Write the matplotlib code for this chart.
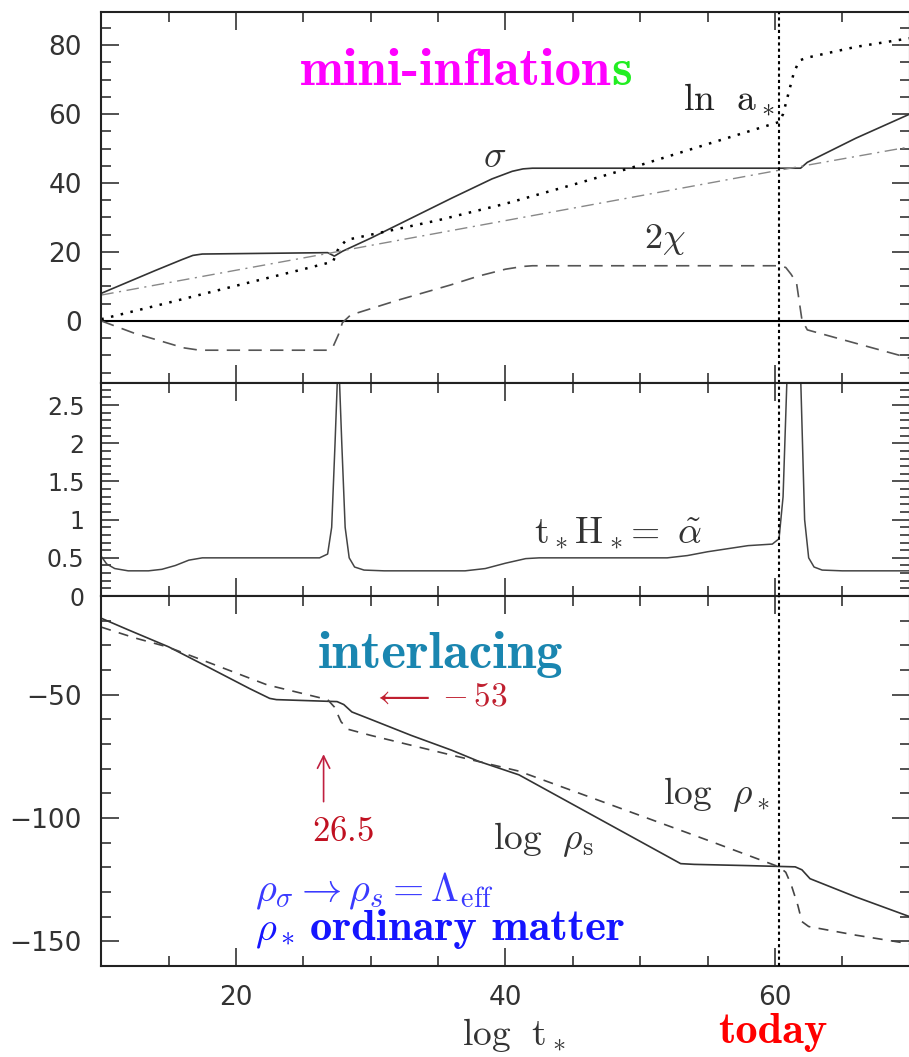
import matplotlib
matplotlib.use("Agg")
import matplotlib.pyplot as plt
from matplotlib.ticker import MultipleLocator, FuncFormatter

plt.rcParams['mathtext.fontset'] = 'cm'
plt.rcParams['font.family'] = 'DejaVu Sans'

# ---- top panel: sigma, ln a*, dash-dot reference, 2 chi
sigma_x = [10, 12, 14, 16, 16.8, 17.5, 26.8, 27.3, 27.9, 30, 33, 36, 39, 40.5, 41.3, 42, 61.9, 62.4, 66, 70]
sigma_y = [8, 11.3, 14.6, 17.8, 19.0, 19.4, 19.8, 18.8, 20.2, 24, 29.8, 35.6, 41.2, 43.4, 44.1, 44.3, 44.3, 46, 53, 60]

lna_x = [10, 15, 20, 25, 27.2, 27.6, 28.2, 30, 35, 40, 45, 50, 55, 60.3, 60.6, 61.0, 61.4, 61.8, 62.3, 66, 70]
lna_y = [0.5, 5.3, 10.2, 15.0, 17.2, 21, 23.5, 25, 29.2, 34, 39.5, 45.2, 51.3, 57.7, 60, 66, 72, 75.5, 76.3, 79.5, 82]

dd_x = [10, 20, 27, 30, 40, 50, 60, 70]
dd_y = [7.5, 14.7, 19.7, 21.9, 29.1, 36.3, 43.5, 50.5]

chi_x = [10, 12.4, 14.9, 16.1, 17.3, 26.8, 27.2, 27.6, 27.9, 28.5, 32, 35.9, 38, 40, 41.3, 42, 60.3, 60.8, 61.2, 61.6, 62.0, 62.4, 66, 70]
chi_y = [0, -3.5, -6.4, -7.8, -8.5, -8.5, -7.5, -4, -0.5, 1.7, 6, 10.4, 13, 15, 15.8, 16, 16, 15.5, 13.5, 11, 0.3, -2.6, -6.5, -10.8]

# ---- middle panel: t* H* = alpha~
alpha_x = [10, 10.4, 11, 12, 13.5, 14.5, 15.5, 16.5, 17.5, 18.5, 26.2, 26.8, 27.1, 27.35, 27.6,
           27.85, 28.1, 28.4, 28.8, 29.5, 31, 37, 38.5, 40, 41.5, 42.5, 52, 53.5, 55, 56.5, 58,
           59.8, 60.3, 60.6, 60.9, 61.2, 61.6, 61.9, 62.2, 62.5, 62.9, 63.5, 65, 70]
alpha_y = [0.52, 0.42, 0.36, 0.33, 0.33, 0.35, 0.40, 0.47, 0.50, 0.50, 0.50, 0.55, 0.9, 2.0, 3.2,
           2.0, 0.9, 0.5, 0.38, 0.34, 0.33, 0.33, 0.36, 0.43, 0.49, 0.50, 0.50, 0.53, 0.58, 0.62, 0.66,
           0.68, 0.75, 1.3, 2.9, 3.5, 3.5, 2.9, 1.0, 0.5, 0.38, 0.34, 0.33, 0.33]

# ---- bottom panel: log rho_s, log rho_*
rhos_x = [10, 12, 15, 18, 21, 22.5, 23, 27.5, 28.0, 28.6, 30, 33, 36, 38, 41, 45, 49, 53, 54, 58, 61.5, 62.0, 62.6, 66, 70]
rhos_y = [-19, -23.7, -30.6, -39, -47.5, -51.5, -52, -52.8, -54, -57, -60, -66.5, -72.5, -77, -82.5,
          -94.5, -106.5, -118.5, -118.8, -119.3, -119.8, -121, -124.6, -132, -140]

rhoo_x = [10, 12.5, 14.9, 18, 22.3, 26.8, 27.3, 27.8, 28.3, 30, 33, 36, 41, 45, 50, 55, 60.3, 60.8, 61.2, 61.7, 62.0, 62.5, 66, 70]
rhoo_y = [-22.6, -27, -30.6, -37, -46, -52, -55, -61, -64, -66.5, -70.5, -74.5, -81, -89, -99, -109,
          -119.8, -122, -127, -135.5, -142, -144, -147.5, -151]

today_x = 60.3
cmbold = dict(fontfamily='cmb10')

fig = plt.figure(figsize=(9.09, 10.57), dpi=100)
left, width = 0.1114, 0.8894
ax1 = fig.add_axes([left, 0.6377, width, 0.3509])
ax2 = fig.add_axes([left, 0.4361, width, 0.2016])
ax3 = fig.add_axes([left, 0.0861, width, 0.3500])

for ax in (ax1, ax2, ax3):
    ax.set_xlim(10, 70)
    ax.xaxis.set_major_locator(MultipleLocator(20))
    ax.xaxis.set_minor_locator(MultipleLocator(5))
    ax.tick_params(which='both', direction='in', top=True, right=True, width=1.1, colors='#222222')
    ax.tick_params(which='major', length=13, pad=14, labelsize=19, labelcolor='#333333')
    ax.tick_params(which='minor', length=7)
    for sp in ax.spines.values():
        sp.set_linewidth(1.5)
        sp.set_color('#222222')
    ax.axvline(today_x, color='black', lw=1.5, ls=(0, (1.5, 1.5)), zorder=3)
    ax.yaxis.set_major_formatter(FuncFormatter(lambda v, p: ('%g' % v).replace('-', '\u2212')))

ax1.tick_params(labelbottom=False)
ax2.tick_params(labelbottom=False)
ax2.tick_params(axis='y', labelsize=17, pad=12)

# top panel
ax1.set_ylim(-18, 89.6)
ax1.yaxis.set_major_locator(MultipleLocator(20))
ax1.yaxis.set_minor_locator(MultipleLocator(5))
ax1.axhline(0, color='black', lw=1.5)
ax1.plot(sigma_x, sigma_y, color='#333333', lw=1.2)
ax1.plot(lna_x, lna_y, color='black', lw=1.8, ls=(0, (1, 3)))
ax1.plot(dd_x, dd_y, color='#888888', lw=1.0, ls=(0, (9, 4, 1.5, 4)))
ax1.plot(chi_x, chi_y, color='#555555', lw=1.2, ls=(0, (8, 5)))

t1 = ax1.text(24.76, 68.4, 'mini-inflation', fontsize=38, color='#ff00ff',
              va='baseline', ha='left', **cmbold)
ax1.annotate('s', xy=(1, 0), xycoords=t1, fontsize=38, color='#22ee22',
             va='bottom', ha='left', **cmbold)
ax1.text(38.3, 44.6, r'$\sigma$', fontsize=27, color='#333333', va='baseline')
ax1.text(53.2, 61.2, r'$\mathrm{ln}\ \ \mathrm{a}_*$', fontsize=27, color='#222222', va='baseline')
ax1.text(50.3, 21.2, r'$2\chi$', fontsize=26, color='#333333', va='baseline')

# middle panel
ax2.set_ylim(0, 2.79)
ax2.yaxis.set_major_locator(MultipleLocator(0.5))
ax2.yaxis.set_minor_locator(MultipleLocator(0.1))
ax2.plot(alpha_x, alpha_y, color='#444444', lw=1.1)
ax2.text(42.1, 0.69, r'$\mathrm{t}_*\mathrm{H}_*\!=\ \tilde{\alpha}$', fontsize=27,
         color='#333333', va='baseline')

# bottom panel
ax3.set_ylim(-160, -10)
ax3.yaxis.set_major_locator(MultipleLocator(50))
ax3.yaxis.set_minor_locator(MultipleLocator(10))
ax3.plot(rhos_x, rhos_y, color='#333333', lw=1.2)
ax3.plot(rhoo_x, rhoo_y, color='#444444', lw=1.2, ls=(0, (6, 5)))

ax3.text(26.1, -39.1, 'interlacing', fontsize=38, color='#1a86b0', va='baseline', **cmbold)
ax3.text(30.1, -54.4, r'$\longleftarrow -53$', fontsize=24, color='#c02030', va='baseline')
ax3.annotate('', xy=(26.5, -73.0), xytext=(26.5, -94.5),
             arrowprops=dict(arrowstyle='->', color='#c02040', lw=1.2, mutation_scale=22))
ax3.text(25.65, -109.3, r'$26.5$', fontsize=25, color='#c01020', va='baseline')
ax3.text(39.1, -112.5, r'$\mathrm{log}\ \ \rho_\mathrm{s}$', fontsize=27, color='#333333', va='baseline')
ax3.text(51.7, -94.4, r'$\mathrm{log}\ \ \rho_*$', fontsize=27, color='#333333', va='baseline')
ax3.text(21.4, -133.9, r'$\rho_\sigma \rightarrow \rho_s = \Lambda_{\rm eff}$', fontsize=29,
         color='#3a3aff', va='baseline')
ax3.text(21.4, -149.6, r'$\rho_*$', fontsize=29, color='#1515ff', va='baseline')
ax3.text(25.5, -149.6, 'ordinary matter', fontsize=32, color='#1515ff', va='baseline', **cmbold)

fig.text(462 / 909, 1 - 1045 / 1057, r'$\mathrm{log}\ \ \mathrm{t}_*$', fontsize=27,
         color='#333333', va='baseline', ha='left')
fig.text(718 / 909, 1 - 1043 / 1057, 'today', fontsize=32, color='#ff0000',
         va='baseline', ha='left', **cmbold)

fig.savefig('out.png', dpi=100)
